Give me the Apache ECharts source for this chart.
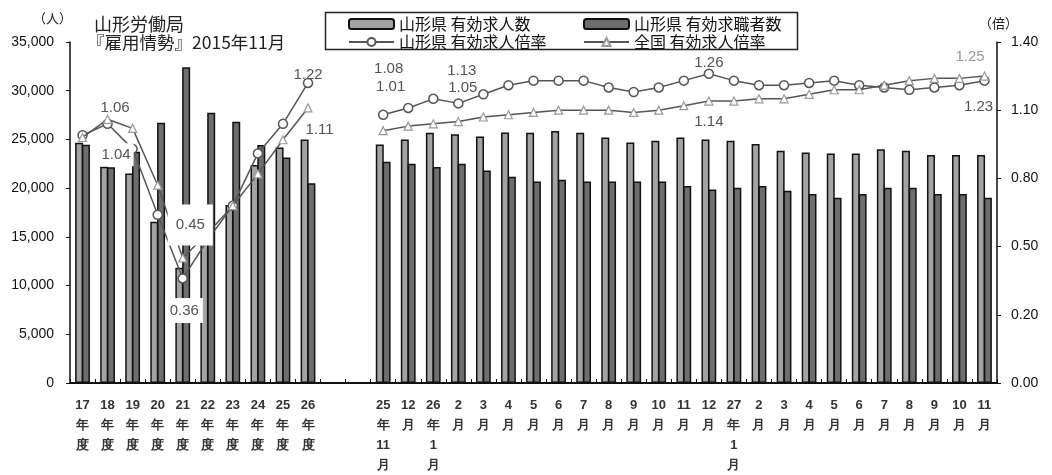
<!DOCTYPE html>
<html>
<head>
<meta charset="utf-8">
<script src="https://cdn.jsdelivr.net/npm/echarts@6/dist/echarts.min.js"></script>
<style>
  html, body { margin: 0; padding: 0; background: #fff; }
  #chart { width: 1052px; height: 475px; }
</style>
</head>
<body>
<div id="chart"></div>
<script>
// Category labels: fiscal years, a two-slot gap, then months
const annualLabels = ['17\n年\n度', '18\n年\n度', '19\n年\n度', '20\n年\n度', '21\n年\n度',
  '22\n年\n度', '23\n年\n度', '24\n年\n度', '25\n年\n度', '26\n年\n度'];
const gapLabels = ['', ''];
const monthLabels = ['25\n年\n11\n月', '12\n月', '26\n年\n1\n月', '2\n月', '3\n月', '4\n月', '5\n月',
  '6\n月', '7\n月', '8\n月', '9\n月', '10\n月', '11\n月', '12\n月', '27\n年\n1\n月', '2\n月',
  '3\n月', '4\n月', '5\n月', '6\n月', '7\n月', '8\n月', '9\n月', '10\n月', '11\n月'];

// 有効求人数 (persons)
const annualOpenings = [24650, 22200, 21510, 16560, 11820, 14700, 18260, 22370, 24180, 25000];
const monthlyOpenings = [24480, 25000, 25690, 25520, 25310, 25720, 25690, 25860, 25690, 25210,
  24690, 24860, 25210, 25000, 24860, 24520, 23840, 23670, 23560, 23560, 23980, 23840, 23390, 23390, 23390];

// 有効求職者数 (persons)
const annualSeekers = [24450, 22150, 23730, 26710, 32400, 27740, 26810, 24420, 23150, 20490];
const monthlySeekers = [22700, 22500, 22160, 22500, 21820, 21170, 20690, 20860, 20690, 20690,
  20690, 20690, 20210, 19870, 20040, 20210, 19730, 19400, 19020, 19400, 20040, 20040, 19400, 19400, 19020];

// 有効求人倍率 (times)
const annualRatioYamagata = [0.99, 1.04, 0.93, 0.64, 0.36, 0.53, 0.68, 0.91, 1.04, 1.22];
const monthlyRatioYamagata = [1.08, 1.11, 1.15, 1.13, 1.17, 1.21, 1.23, 1.23, 1.23, 1.20, 1.18, 1.20,
  1.23, 1.26, 1.23, 1.21, 1.21, 1.22, 1.23, 1.21, 1.20, 1.19, 1.20, 1.21, 1.23];
const annualRatioNational = [0.98, 1.06, 1.02, 0.77, 0.45, 0.56, 0.68, 0.82, 0.97, 1.11];
const monthlyRatioNational = [1.01, 1.03, 1.04, 1.05, 1.07, 1.08, 1.09, 1.10, 1.10, 1.10, 1.09, 1.10,
  1.12, 1.14, 1.14, 1.15, 1.15, 1.17, 1.19, 1.19, 1.21, 1.23, 1.24, 1.24, 1.25];

const categories = annualLabels.concat(gapLabels, monthLabels);
const gapValues = gapLabels.map(() => null);
const joinParts = (a, m) => a.concat(gapValues, m);

// Value callouts on the ratio lines: category index -> placement
const yamagataCallouts = {
  1: { offset: [8.5, 31], backgroundColor: '#fff', padding: [4, 3] },
  4: { offset: [1.5, 32], backgroundColor: '#fff', padding: [5, 4] },
  9: { offset: [0, -8] },
  12: { offset: [5.5, -45.5] },
  15: { offset: [3.5, -33] },
  25: { offset: [0, -11] },
  36: { offset: [-6, 26] }
};
const nationalCallouts = {
  1: { offset: [7.5, -11] },
  4: { offset: [7.5, -33], backgroundColor: '#fff', padding: [18, 8, 8, 8] },
  9: { offset: [11.5, 22] },
  12: { offset: [7.5, -43.5] },
  15: { offset: [4.5, -34] },
  25: { offset: [0, 20.5] },
  36: { offset: [-14.5, -19], color: '#999' }
};

const numFont = '"Liberation Sans", Arial, sans-serif';
const jpFont = '"Noto Sans CJK JP", "Liberation Sans", sans-serif';

function withCallouts(values, callouts) {
  return values.map((v, i) => {
    const c = callouts[i];
    if (!c || v == null) return v;
    return {
      value: v,
      label: Object.assign({
        show: true,
        position: 'inside',
        fontSize: 15,
        fontFamily: numFont,
        color: '#555',
        formatter: p => Number(p.value).toFixed(2)
      }, c)
    };
  });
}

const fmtThousands = v => String(v).replace(/\B(?=(\d{3})+(?!\d))/g, ',');

const chart = echarts.init(document.getElementById('chart'), null, { renderer: 'canvas' });

const option = {
  animation: false,
  backgroundColor: '#fff',
  grid: { left: 70, right: 55, top: 42, bottom: 92, containLabel: false },
  legend: [
    {
      data: ['山形県 有効求人数', '山形県 有効求人倍率'],
      left: 343, top: 11, orient: 'vertical',
      itemWidth: 45, itemHeight: 10, itemGap: 2,
      selectedMode: false,
      textStyle: { fontSize: 16, lineHeight: 16, color: '#111', fontFamily: jpFont }
    },
    {
      data: ['山形県 有効求職者数', '全国 有効求人倍率'],
      left: 578, top: 11, orient: 'vertical',
      itemWidth: 45, itemHeight: 10, itemGap: 2,
      selectedMode: false,
      textStyle: { fontSize: 16, lineHeight: 16, color: '#111', fontFamily: jpFont }
    }
  ],
  graphic: [
    { type: 'rect', left: 323, top: 10, shape: { width: 472, height: 37 },
      style: { fill: 'none', stroke: '#222', lineWidth: 1.5 }, z: 10 },
    { type: 'text', left: 94, top: 15,
      style: { text: '山形労働局', fontSize: 18, fill: '#222', fontFamily: jpFont } },
    { type: 'text', left: 87, top: 34,
      style: { text: '『雇用情勢』2015年11月', fontSize: 17.5, fill: '#222', fontFamily: jpFont } },
    { type: 'text', left: 33, top: 12,
      style: { text: '（人）', fontSize: 13, fill: '#222', fontFamily: jpFont } },
    { type: 'text', left: 979, top: 17,
      style: { text: '（倍）', fontSize: 13, fill: '#222', fontFamily: jpFont } }
  ],
  xAxis: {
    type: 'category',
    data: categories,
    boundaryGap: true,
    axisLine: { lineStyle: { color: '#111', width: 2 } },
    axisTick: { show: true, inside: true, length: 4, interval: 0, lineStyle: { color: '#111' } },
    axisLabel: {
      interval: 0, margin: 12, lineHeight: 20, fontSize: 13, fontWeight: 'bold',
      color: '#333', fontFamily: numFont
    }
  },
  yAxis: [
    {
      type: 'value', min: 0, max: 35000, interval: 5000,
      axisLine: { show: true, lineStyle: { color: '#111', width: 1.5 } },
      axisTick: { show: true, length: 4, lineStyle: { color: '#111' } },
      splitLine: { show: false },
      axisLabel: { margin: 16, fontSize: 14, color: '#111', fontFamily: numFont,
        formatter: fmtThousands }
    },
    {
      type: 'value', min: -0.1, max: 1.4, interval: 0.3, position: 'right',
      axisLine: { show: true, lineStyle: { color: '#111', width: 1.5 } },
      axisTick: { show: true, length: 4, lineStyle: { color: '#111' } },
      splitLine: { show: false },
      axisLabel: { margin: 14, fontSize: 14, color: '#111', fontFamily: numFont,
        formatter: v => (v < 0 ? 0 : v).toFixed(2) }
    }
  ],
  series: [
    {
      name: '山形県 有効求人数', type: 'bar', yAxisIndex: 0,
      data: joinParts(annualOpenings, monthlyOpenings),
      barWidth: 8, barGap: '-15%',
      itemStyle: { color: '#a3a3a3', borderColor: '#111', borderWidth: 1.5 }
    },
    {
      name: '山形県 有効求職者数', type: 'bar', yAxisIndex: 0,
      data: joinParts(annualSeekers, monthlySeekers),
      barWidth: 8, barGap: '-15%',
      itemStyle: { color: '#6e6e6e', borderColor: '#111', borderWidth: 1.5 }
    },
    {
      name: '山形県 有効求人倍率', type: 'line', yAxisIndex: 1, z: 4,
      data: withCallouts(joinParts(annualRatioYamagata, monthlyRatioYamagata), yamagataCallouts),
      connectNulls: false,
      symbol: 'circle', symbolSize: 9, showAllSymbol: true,
      lineStyle: { color: '#555', width: 1.5 },
      itemStyle: { color: '#fff', borderColor: '#555', borderWidth: 1.5 }
    },
    {
      name: '全国 有効求人倍率', type: 'line', yAxisIndex: 1, z: 5,
      data: withCallouts(joinParts(annualRatioNational, monthlyRatioNational), nationalCallouts),
      connectNulls: false,
      symbol: 'triangle', symbolSize: 8, showAllSymbol: true,
      lineStyle: { color: '#555', width: 1.5 },
      itemStyle: { color: '#fff', borderColor: '#999', borderWidth: 1.2 }
    }
  ]
};

chart.setOption(option);
</script>
</body>
</html>
